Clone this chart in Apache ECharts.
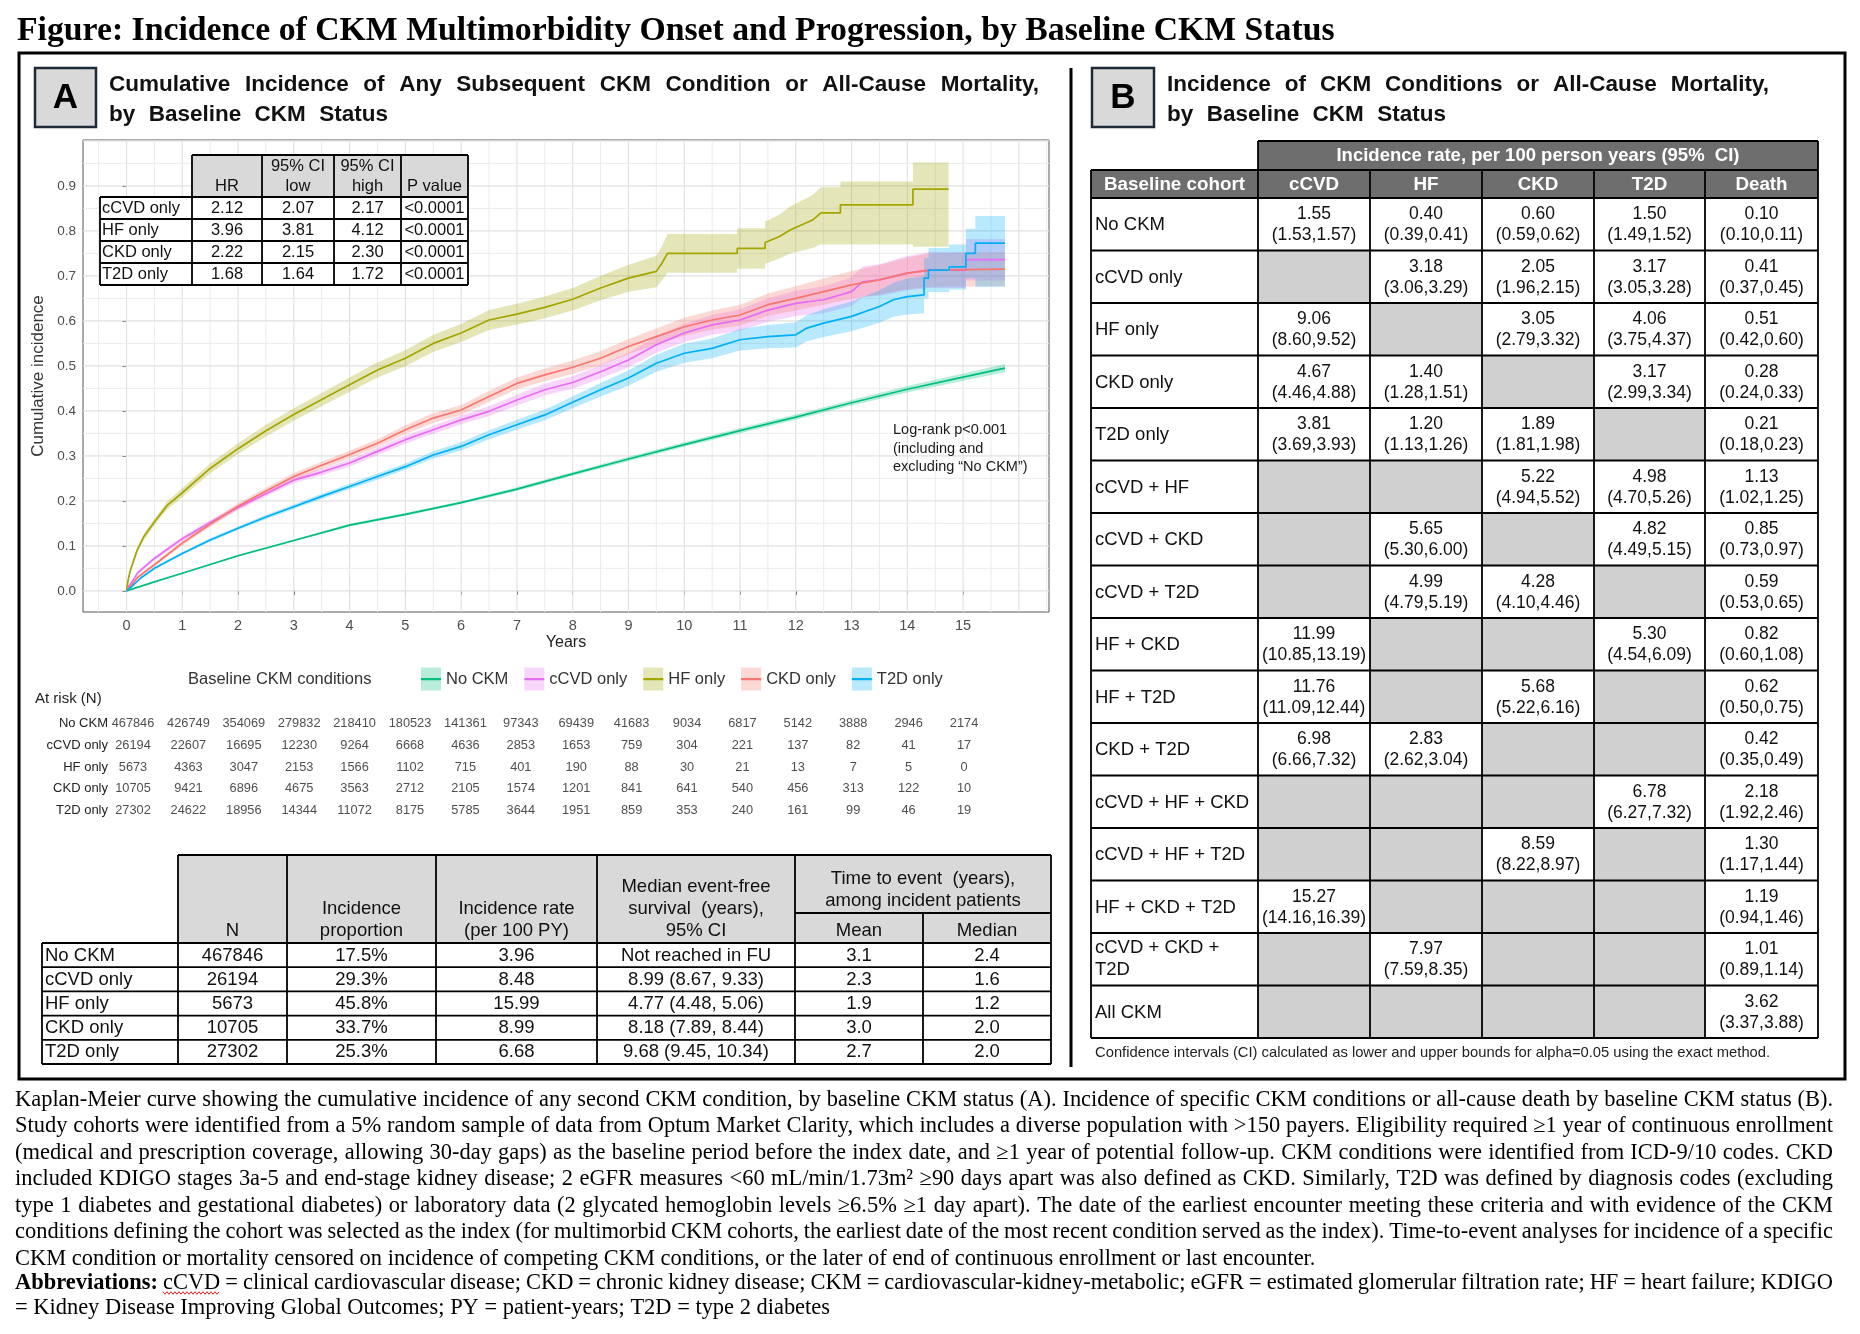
<!DOCTYPE html>
<html><head><meta charset="utf-8">
<script src="https://cdn.jsdelivr.net/npm/echarts@6/dist/echarts.min.js"></script>
<style>html,body{margin:0;padding:0;background:#fff}#c{width:1860px;height:1334px}</style>
</head><body><div id="c"></div>
<script>
// ---------------- DATA ----------------
const groups = ['No CKM','cCVD only','HF only','CKD only','T2D only'];
const colors = ['#00BF7D','#E76BF3','#A3A500','#F8766D','#00B0F6'];
const ribbonColors = ['rgba(0,191,125,0.28)','rgba(231,107,243,0.28)','rgba(163,165,0,0.28)','rgba(248,118,109,0.28)','rgba(0,176,246,0.28)'];
const xTicks = [0,1,2,3,4,5,6,7,8,9,10,11,12,13,14,15];
const yTicks = [0,0.1,0.2,0.3,0.4,0.5,0.6,0.7,0.8,0.9];

// [years, estimate, lower CI, upper CI]
const curveNoCkm = [[0,0,0,0],[0.5,0.02,0.019,0.021],[1,0.039,0.038,0.04],[2,0.078,0.076,0.08],[3,0.112,0.11,0.114],[4,0.146,0.143,0.149],[5,0.17,0.167,0.173],[6,0.196,0.193,0.199],[7,0.226,0.222,0.23],[8,0.26,0.256,0.264],[9,0.293,0.288,0.298],[10,0.325,0.32,0.33],[11,0.356,0.35,0.362],[12,0.386,0.38,0.392],[13,0.418,0.412,0.424],[14,0.448,0.441,0.455],[15,0.475,0.467,0.483],[15.75,0.495,0.486,0.504]];
const curveCcvd = [[0,0,0,0],[0.05,0.012,0.01,0.014],[0.1,0.02,0.018,0.022],[0.2,0.04,0.037,0.043],[0.5,0.072,0.068,0.076],[1,0.116,0.111,0.121],[1.5,0.152,0.147,0.157],[2,0.185,0.179,0.191],[2.5,0.216,0.21,0.222],[3,0.246,0.239,0.253],[3.5,0.264,0.257,0.271],[4,0.284,0.276,0.292],[4.5,0.31,0.302,0.318],[5,0.336,0.327,0.345],[5.5,0.358,0.349,0.367],[6,0.38,0.37,0.39],[6.5,0.399,0.388,0.41],[7,0.424,0.412,0.436],[7.5,0.447,0.434,0.46],[8,0.463,0.449,0.477],[8.5,0.487,0.472,0.502],[9,0.513,0.497,0.529],[9.5,0.547,0.529,0.565],[10,0.573,0.553,0.593],[10.5,0.591,0.569,0.613],[11,0.602,0.578,0.626],[11.5,0.624,0.598,0.65],[12,0.639,0.611,0.667],[12.5,0.647,0.617,0.677],[13,0.665,0.633,0.697],[13.2,0.687,0.653,0.721],[13.5,0.691,0.656,0.726],[14,0.706,0.668,0.744],[14.4,0.713,0.673,0.753],[15.05,0.713,0.673,0.753],[15.05,0.736,0.69,0.782],[15.75,0.736,0.69,0.782]];
const curveHf = [[0,0,0,0],[0.03,0.025,0.021,0.029],[0.07,0.046,0.041,0.051],[0.19,0.09,0.084,0.096],[0.31,0.12,0.113,0.127],[0.5,0.153,0.145,0.161],[0.73,0.19,0.181,0.199],[1,0.218,0.208,0.228],[1.5,0.272,0.261,0.283],[2,0.316,0.304,0.328],[2.5,0.356,0.343,0.369],[3,0.392,0.378,0.406],[3.66,0.436,0.421,0.451],[4,0.458,0.442,0.474],[4.5,0.491,0.474,0.508],[5,0.517,0.499,0.535],[5.5,0.55,0.531,0.569],[6,0.573,0.553,0.593],[6.5,0.602,0.58,0.624],[7,0.615,0.592,0.638],[7.5,0.63,0.606,0.654],[8,0.648,0.623,0.673],[8.5,0.673,0.646,0.7],[9,0.695,0.665,0.725],[9.5,0.71,0.675,0.745],[9.6,0.728,0.69,0.766],[9.7,0.75,0.707,0.793],[10.95,0.75,0.707,0.793],[10.95,0.761,0.716,0.806],[11.45,0.761,0.716,0.806],[11.45,0.774,0.727,0.821],[11.7,0.787,0.738,0.836],[11.9,0.802,0.75,0.854],[12.3,0.824,0.762,0.88],[12.45,0.84,0.77,0.897],[12.8,0.84,0.77,0.897],[12.8,0.858,0.77,0.91],[14.1,0.858,0.77,0.91],[14.1,0.893,0.765,0.952],[14.74,0.893,0.765,0.952]];
const curveCkd = [[0,0,0,0],[0.05,0.008,0.006,0.01],[0.1,0.014,0.012,0.016],[0.2,0.03,0.027,0.033],[0.5,0.058,0.054,0.062],[1,0.106,0.101,0.111],[1.5,0.148,0.142,0.154],[2,0.188,0.181,0.195],[2.5,0.222,0.215,0.229],[3,0.254,0.246,0.262],[3.5,0.279,0.271,0.287],[4,0.303,0.294,0.312],[4.5,0.328,0.319,0.337],[5,0.358,0.348,0.368],[5.5,0.384,0.373,0.395],[6,0.402,0.391,0.413],[6.5,0.432,0.42,0.444],[7,0.461,0.448,0.474],[7.5,0.48,0.466,0.494],[8,0.497,0.482,0.512],[8.5,0.517,0.501,0.533],[9,0.543,0.526,0.56],[9.5,0.565,0.547,0.583],[10,0.587,0.567,0.607],[10.5,0.602,0.581,0.623],[11,0.613,0.59,0.636],[11.5,0.636,0.611,0.661],[12,0.65,0.623,0.677],[12.5,0.665,0.636,0.694],[13,0.68,0.649,0.711],[13.5,0.691,0.658,0.724],[14,0.706,0.671,0.741],[14.4,0.713,0.676,0.75],[15.75,0.715,0.677,0.753]];
const curveT2d = [[0,0,0,0],[0.1,0.01,0.009,0.011],[0.25,0.028,0.026,0.03],[0.5,0.05,0.047,0.053],[1,0.083,0.08,0.086],[1.5,0.113,0.109,0.117],[2,0.139,0.135,0.143],[2.5,0.164,0.159,0.169],[3,0.187,0.182,0.192],[3.5,0.21,0.204,0.216],[4,0.232,0.226,0.238],[4.5,0.254,0.247,0.261],[5,0.276,0.269,0.283],[5.5,0.302,0.294,0.31],[6,0.321,0.312,0.33],[6.5,0.347,0.337,0.357],[7,0.369,0.358,0.38],[7.5,0.391,0.379,0.403],[8,0.419,0.406,0.432],[8.5,0.447,0.432,0.462],[9,0.473,0.456,0.49],[9.5,0.506,0.487,0.525],[10,0.528,0.507,0.549],[10.5,0.539,0.517,0.561],[11,0.558,0.534,0.582],[11.5,0.565,0.539,0.591],[12,0.569,0.541,0.597],[12.2,0.584,0.555,0.613],[12.5,0.595,0.564,0.626],[13,0.61,0.577,0.643],[13.5,0.632,0.596,0.668],[13.75,0.647,0.609,0.685],[14,0.654,0.614,0.694],[14.3,0.658,0.617,0.699],[14.3,0.695,0.65,0.74],[14.38,0.695,0.65,0.74],[14.38,0.713,0.664,0.762],[14.75,0.713,0.664,0.762],[14.75,0.72,0.67,0.77],[15.05,0.72,0.67,0.77],[15.05,0.75,0.695,0.805],[15.22,0.75,0.695,0.805],[15.22,0.773,0.676,0.833],[15.75,0.773,0.676,0.833]];

// Numbers at risk at years 0..15
const riskNoCkm = [467846,426749,354069,279832,218410,180523,141361,97343,69439,41683,9034,6817,5142,3888,2946,2174];
const riskCcvd  = [26194,22607,16695,12230,9264,6668,4636,2853,1653,759,304,221,137,82,41,17];
const riskHf    = [5673,4363,3047,2153,1566,1102,715,401,190,88,30,21,13,7,5,0];
const riskCkd   = [10705,9421,6896,4675,3563,2712,2105,1574,1201,841,641,540,456,313,122,10];
const riskT2d   = [27302,24622,18956,14344,11072,8175,5785,3644,1951,859,353,240,161,99,46,19];

// Hazard ratio inset
const hrGroups = ['cCVD only','HF only','CKD only','T2D only'];
const hrValue = ['2.12','3.96','2.22','1.68'];
const hrLow = ['2.07','3.81','2.15','1.64'];
const hrHigh = ['2.17','4.12','2.30','1.72'];
const hrP = ['<0.0001','<0.0001','<0.0001','<0.0001'];

// Panel A summary table
const sumN = ['467846','26194','5673','10705','27302'];
const sumProp = ['17.5%','29.3%','45.8%','33.7%','25.3%'];
const sumRate = ['3.96','8.48','15.99','8.99','6.68'];
const sumMedianSurv = ['Not reached in FU','8.99 (8.67, 9.33)','4.77 (4.48, 5.06)','8.18 (7.89, 8.44)','9.68 (9.45, 10.34)'];
const sumMeanTime = ['3.1','2.3','1.9','3.0','2.7'];
const sumMedianTime = ['2.4','1.6','1.2','2.0','2.0'];

// Panel B incidence table
const bCohorts = ['No CKM','cCVD only','HF only','CKD only','T2D only','cCVD + HF','cCVD + CKD','cCVD + T2D','HF + CKD','HF + T2D','CKD + T2D','cCVD + HF + CKD','cCVD + HF + T2D','HF + CKD + T2D','cCVD + CKD +|T2D','All CKM'];
const bOutcomes = ['cCVD','HF','CKD','T2D','Death'];
const rateCcvd = ['1.55|(1.53,1.57)',null,'9.06|(8.60,9.52)','4.67|(4.46,4.88)','3.81|(3.69,3.93)',null,null,null,'11.99|(10.85,13.19)','11.76|(11.09,12.44)','6.98|(6.66,7.32)',null,null,'15.27|(14.16,16.39)',null,null];
const rateHf = ['0.40|(0.39,0.41)','3.18|(3.06,3.29)',null,'1.40|(1.28,1.51)','1.20|(1.13,1.26)',null,'5.65|(5.30,6.00)','4.99|(4.79,5.19)',null,null,'2.83|(2.62,3.04)',null,null,null,'7.97|(7.59,8.35)',null];
const rateCkd = ['0.60|(0.59,0.62)','2.05|(1.96,2.15)','3.05|(2.79,3.32)',null,'1.89|(1.81,1.98)','5.22|(4.94,5.52)',null,'4.28|(4.10,4.46)',null,'5.68|(5.22,6.16)',null,null,'8.59|(8.22,8.97)',null,null,null];
const rateT2d = ['1.50|(1.49,1.52)','3.17|(3.05,3.28)','4.06|(3.75,4.37)','3.17|(2.99,3.34)',null,'4.98|(4.70,5.26)','4.82|(4.49,5.15)',null,'5.30|(4.54,6.09)',null,null,'6.78|(6.27,7.32)',null,null,null,null];
const rateDeath = ['0.10|(0.10,0.11)','0.41|(0.37,0.45)','0.51|(0.42,0.60)','0.28|(0.24,0.33)','0.21|(0.18,0.23)','1.13|(1.02,1.25)','0.85|(0.73,0.97)','0.59|(0.53,0.65)','0.82|(0.60,1.08)','0.62|(0.50,0.75)','0.42|(0.35,0.49)','2.18|(1.92,2.46)','1.30|(1.17,1.44)','1.19|(0.94,1.46)','1.01|(0.89,1.14)','3.62|(3.37,3.88)'];

// ---------------- HELPERS ----------------
const SANS = 'Liberation Sans', SERIF = 'Liberation Serif';
const mctx = document.createElement('canvas').getContext('2d');
function tw(s, size, fam, wt) { mctx.font = (wt || 'normal') + ' ' + size + 'px ' + fam; return mctx.measureText(s).width; }
const G = [];
function txt(s, x, y, size, o) {
  o = o || {};
  G.push({ type: 'text', silent: true, z: o.z || 120, style: { text: s, x: x, y: y, fill: o.color || '#111', fontSize: size, fontFamily: o.fam || SANS, fontWeight: o.wt || 'normal', align: o.align || 'left', textAlign: o.align || 'left', verticalAlign: 'middle', textVerticalAlign: 'middle' } });
}
function rect(x, y, w, h, fill, stroke, lw, z) {
  G.push({ type: 'rect', silent: true, z: z || 100, shape: { x: x, y: y, width: w, height: h }, style: { fill: fill || 'rgba(0,0,0,0)', stroke: stroke || null, lineWidth: lw || 0 } });
}
function line(x1, y1, x2, y2, lw, color, z) {
  G.push({ type: 'line', silent: true, z: z || 110, shape: { x1: x1, y1: y1, x2: x2, y2: y2 }, style: { stroke: color || '#000', lineWidth: lw || 1.6 } });
}
// place words of a line, optionally justified to width; returns positions
function words(s, x0, width, y, size, fam, opt) {
  opt = opt || {};
  const ws = s.split(' ');
  const wts = ws.map((w, i) => (i < (opt.bold || 0) ? 'bold' : 'normal'));
  const wid = ws.map((w, i) => tw(w, size, fam, wts[i]));
  const total = wid.reduce((a, b) => a + b, 0);
  const gap = (opt.justify && ws.length > 1) ? (width - total) / (ws.length - 1) : tw(' ', size, fam);
  let x = x0; const pos = [];
  ws.forEach((w, i) => {
    txt(w, x, y, size, { fam: fam, wt: wts[i], color: opt.color || '#111' });
    pos.push([x, wid[i]]); x += wid[i] + gap;
  });
  return pos;
}

// ---------------- FIGURE TITLE + FRAME ----------------
const TITLE = 'Figure: Incidence of CKM Multimorbidity Onset and Progression, by Baseline CKM Status';
let ts = 30 * 1318 / tw(TITLE, 30, SERIF, 'bold'); ts = Math.max(26, Math.min(36, ts));
txt(TITLE, 17, 31, ts, { fam: SERIF, wt: 'bold', color: '#000' });
rect(19, 53, 1826, 1026, null, '#000', 3, 90);
line(1071, 68, 1071, 1067, 3, '#000');

// Panel labels
rect(35, 68, 61, 59, '#d9d9d9', '#1f2a38', 2.5);
txt('A', 65.5, 98, 35, { wt: 'bold', align: 'center', color: '#000' });
rect(1092, 68, 62, 59, '#d9d9d9', '#1f2a38', 2.5);
txt('B', 1123, 98, 35, { wt: 'bold', align: 'center', color: '#000' });

function fitSize(s, size, width, wt) { const w = tw(s, size, SANS, wt); return w > width * 0.97 ? size * width * 0.97 / w : size; }
const tA1 = 'Cumulative Incidence of Any Subsequent CKM Condition or All-Cause Mortality,';
const tA2 = 'by Baseline CKM Status';
const tB1 = 'Incidence of CKM Conditions or All-Cause Mortality,';
const tsA = fitSize(tA1, 22.5, 930, 'bold');
words(tA1, 109, 930, 85, tsA, SANS, { justify: true, bold: 99 });
words(tA2, 109, 279, 115, tsA, SANS, { justify: true, bold: 99 });
words(tB1, 1167, 602, 85, tsA, SANS, { justify: true, bold: 99 });
words(tA2, 1167, 279, 115, tsA, SANS, { justify: true, bold: 99 });

// ---------------- HR INSET TABLE ----------------
const hx = [100, 192, 262, 334, 401, 468];
const hyH = 155, hy0 = 197, hrH = 22;
rect(hx[1], hyH, hx[5] - hx[1], hy0 - hyH, '#d9d9d9');
rect(hx[0], hy0, hx[5] - hx[0], hrH * 4, '#ffffff');
line(hx[1], hyH, hx[5], hyH, 1.8);
for (let i = 0; i <= 4; i++) line(hx[0], hy0 + i * hrH, hx[5], hy0 + i * hrH, 1.8);
line(hx[0], hy0, hx[0], hy0 + 4 * hrH, 1.8);
for (let j = 1; j <= 5; j++) line(hx[j], hyH, hx[j], hy0 + 4 * hrH, 1.8);
const hrFs = 16.5;
txt('HR', (hx[1] + hx[2]) / 2, 186, hrFs, { align: 'center' });
txt('95% CI', (hx[2] + hx[3]) / 2, 166, hrFs, { align: 'center' });
txt('low', (hx[2] + hx[3]) / 2, 186, hrFs, { align: 'center' });
txt('95% CI', (hx[3] + hx[4]) / 2, 166, hrFs, { align: 'center' });
txt('high', (hx[3] + hx[4]) / 2, 186, hrFs, { align: 'center' });
txt('P value', (hx[4] + hx[5]) / 2, 186, hrFs, { align: 'center' });
hrGroups.forEach((g, i) => {
  const y = hy0 + i * hrH + hrH / 2 + 0.5;
  txt(g, hx[0] + 2, y, hrFs);
  txt(hrValue[i], (hx[1] + hx[2]) / 2, y, hrFs, { align: 'center' });
  txt(hrLow[i], (hx[2] + hx[3]) / 2, y, hrFs, { align: 'center' });
  txt(hrHigh[i], (hx[3] + hx[4]) / 2, y, hrFs, { align: 'center' });
  txt(hrP[i], (hx[4] + hx[5]) / 2, y, hrFs, { align: 'center' });
});

// Log-rank annotation
txt('Log-rank p<0.001', 893, 430, 14.5, { color: '#1a1a1a' });
txt('(including and', 893, 448.5, 14.5, { color: '#1a1a1a' });
txt('excluding \u201cNo CKM\u201d)', 893, 467, 14.5, { color: '#1a1a1a' });

// Legend title & at-risk title
txt('Baseline CKM conditions', 188, 679, 16.5, { color: '#333' });
txt('At risk (N)', 35, 699, 15, { color: '#222' });

// ---------------- SUMMARY TABLE (A) ----------------
const ax = [42, 178, 287, 436, 597, 795, 923, 1051];
const aTop = 855, aHb = 943, aSplit = 913, aRow = 24.2;
rect(ax[1], aTop, ax[7] - ax[1], aHb - aTop, '#d9d9d9');
line(ax[1], aTop, ax[7], aTop, 1.8);
line(ax[5], aSplit, ax[7], aSplit, 1.8);
for (let i = 0; i <= 5; i++) line(ax[0], aHb + i * aRow, ax[7], aHb + i * aRow, 1.8);
line(ax[0], aHb, ax[0], aHb + 5 * aRow, 1.8);
for (let j = 1; j <= 7; j++) line(ax[j], j === 6 ? aSplit : aTop, ax[j], aHb + 5 * aRow, 1.8);
const aFs = 18.5;
const cA = j => (ax[j] + ax[j + 1]) / 2;
txt('N', cA(1), 931, aFs, { align: 'center' });
txt('Incidence', cA(2), 909, aFs, { align: 'center' });
txt('proportion', cA(2), 931, aFs, { align: 'center' });
txt('Incidence rate', cA(3), 909, aFs, { align: 'center' });
txt('(per 100 PY)', cA(3), 931, aFs, { align: 'center' });
txt('Median event-free', cA(4), 887, aFs, { align: 'center' });
txt('survival  (years),', cA(4), 909, aFs, { align: 'center' });
txt('95% CI', cA(4), 931, aFs, { align: 'center' });
txt('Time to event  (years),', (ax[5] + ax[7]) / 2, 879, aFs, { align: 'center' });
txt('among incident patients', (ax[5] + ax[7]) / 2, 901, aFs, { align: 'center' });
txt('Mean', cA(5), 931, aFs, { align: 'center' });
txt('Median', cA(6), 931, aFs, { align: 'center' });
const aCols = [sumN, sumProp, sumRate, sumMedianSurv, sumMeanTime, sumMedianTime];
groups.forEach((g, i) => {
  const y = aHb + i * aRow + aRow / 2 + 0.5;
  txt(g, ax[0] + 3, y, aFs);
  aCols.forEach((col, j) => txt(col[i], cA(j + 1), y, aFs, { align: 'center' }));
});

// ---------------- INCIDENCE TABLE (B) ----------------
const bx = [1091, 1258, 1370, 1482, 1594, 1705, 1818];
const bBand = 141, bHdr = 170, bTop = 198, bRow = 52.5;
const hdrFill = '#6e6e6e';
rect(bx[1], bBand, bx[6] - bx[1], bHdr - bBand, hdrFill);
rect(bx[0], bHdr, bx[6] - bx[0], bTop - bHdr, hdrFill);
const bCols = [rateCcvd, rateHf, rateCkd, rateT2d, rateDeath];
bCohorts.forEach((c, i) => {
  bCols.forEach((col, j) => { if (col[i] === null) rect(bx[j + 1], bTop + i * bRow, bx[j + 2] - bx[j + 1], bRow, '#d0d0d0'); });
});
line(bx[1], bBand, bx[6], bBand, 1.8);
line(bx[0], bHdr, bx[6], bHdr, 1.8);
for (let i = 0; i <= bCohorts.length; i++) line(bx[0], bTop + i * bRow, bx[6], bTop + i * bRow, 1.8);
line(bx[0], bHdr, bx[0], bTop + bCohorts.length * bRow, 1.8);
for (let j = 1; j <= 6; j++) line(bx[j], (j === 1 || j === 6) ? bBand : bHdr, bx[j], bTop + bCohorts.length * bRow, 1.8);
txt('Incidence rate, per 100 person years (95%  CI)', (bx[1] + bx[6]) / 2, 156, 18.5, { align: 'center', color: '#fff', wt: 'bold' });
txt('Baseline cohort', (bx[0] + bx[1]) / 2, 184.5, 18.8, { align: 'center', color: '#fff', wt: 'bold' });
bOutcomes.forEach((o, j) => txt(o, (bx[j + 1] + bx[j + 2]) / 2, 184.5, 18.8, { align: 'center', color: '#fff', wt: 'bold' }));
bCohorts.forEach((c, i) => {
  const yc = bTop + i * bRow + bRow / 2;
  const parts = c.split('|');
  if (parts.length === 1) txt(c, bx[0] + 4, yc + 1, 18.5);
  else { txt(parts[0], bx[0] + 4, yc - 11, 18.5); txt(parts[1], bx[0] + 4, yc + 11, 18.5); }
  bCols.forEach((col, j) => {
    if (col[i] === null) return;
    const p = col[i].split('|'); const cx = (bx[j + 1] + bx[j + 2]) / 2;
    txt(p[0], cx, yc - 10, 17.5, { align: 'center' });
    txt(p[1], cx, yc + 11, 17.5, { align: 'center' });
  });
});
const NOTE_B = 'Confidence intervals (CI) calculated as lower and upper bounds for alpha=0.05 using the exact method.';
txt(NOTE_B, 1095, 1053, 14 * 676 / tw(NOTE_B, 14, SANS), { color: '#222' });

// ---------------- FOOTNOTE ----------------
const foot = [
  'Kaplan-Meier curve showing the cumulative incidence of any second CKM condition, by baseline CKM status (A). Incidence of specific CKM conditions or all-cause death by baseline CKM status (B).',
  'Study cohorts were identified from a 5% random sample of data from Optum Market Clarity, which includes a diverse population with >150 payers. Eligibility required \u22651 year of continuous enrollment',
  '(medical and prescription coverage, allowing 30-day gaps) as the baseline period before the index date, and \u22651 year of potential follow-up. CKM conditions were identified from ICD-9/10 codes. CKD',
  'included KDIGO stages 3a-5 and end-stage kidney disease; 2 eGFR measures <60 mL/min/1.73m\u00b2 \u226590 days apart was also defined as CKD. Similarly, T2D was defined by diagnosis codes (excluding',
  'type 1 diabetes and gestational diabetes) or laboratory data (2 glycated hemoglobin levels \u22656.5% \u22651 day apart). The date of the earliest encounter meeting these criteria and with evidence of the CKM',
  'conditions defining the cohort was selected as the index (for multimorbid CKM cohorts, the earliest date of the most recent condition served as the index). Time-to-event analyses for incidence of a specific',
  'CKM condition or mortality censored on incidence of competing CKM conditions, or the later of end of continuous enrollment or last encounter.',
  'Abbreviations: cCVD = clinical cardiovascular disease; CKD = chronic kidney disease; CKM = cardiovascular-kidney-metabolic; eGFR = estimated glomerular filtration rate; HF = heart failure; KDIGO',
  '= Kidney Disease Improving Global Outcomes; PY = patient-years; T2D = type 2 diabetes'
];
const footY = [1100, 1126.5, 1153, 1179.5, 1206, 1232.5, 1259, 1283, 1308];
const footJ = [1, 1, 1, 1, 1, 1, 0, 1, 0];
const fs1 = 20 * 1302 / tw(foot[6], 20, SERIF), fs2 = 20 * 815 / tw(foot[8], 20, SERIF);
const fs = Math.max(17, Math.min(23, (fs1 + fs2) / 2));
foot.forEach((l, i) => {
  const pos = words(l, 15, 1818, footY[i], fs, SERIF, { justify: !!footJ[i], bold: i === 7 ? 1 : 0, color: '#000' });
  if (i === 7) { // spell-check squiggle under "cCVD"
    const p = pos[1]; const pts = []; let k = 0;
    for (let x = p[0]; x <= p[0] + p[1]; x += 2) { pts.push([x, footY[i] + 10 + (k % 2 ? 1.3 : -1.3)]); k++; }
    G.push({ type: 'polyline', silent: true, z: 120, shape: { points: pts }, style: { stroke: '#e02020', lineWidth: 1, fill: null } });
  }
});

// ---------------- CHART SERIES ----------------
const X_MIN = -0.78, X_MAX = 16.54, Y_MIN = -0.047, Y_MAX = 1.002;
const gridLines = [];
for (let k = -1; k <= 33; k++) { const t = k * 0.5; if (t > X_MIN && t < X_MAX) gridLines.push([k % 2 === 0 ? 0 : 1, t]); }
for (let k = 0; k <= 20; k++) { const v = k * 0.05; if (v > Y_MIN && v < Y_MAX) gridLines.push([k % 2 === 0 ? 2 : 3, v]); }

const curves = [curveNoCkm, curveCcvd, curveHf, curveCkd, curveT2d];
const risks = [riskNoCkm, riskCcvd, riskHf, riskCkd, riskT2d];
const series = [];
series.push({
  type: 'custom', xAxisIndex: 0, yAxisIndex: 0, z: 1, silent: true, data: gridLines, clip: true,
  renderItem: (params, api) => {
    const kind = api.value(0), v = api.value(1);
    let a, b;
    if (kind < 2) { a = api.coord([v, Y_MIN]); b = api.coord([v, Y_MAX]); }
    else { a = api.coord([X_MIN, v]); b = api.coord([X_MAX, v]); }
    const major = kind === 0 || kind === 2;
    return { type: 'line', shape: { x1: a[0], y1: a[1], x2: b[0], y2: b[1] }, style: { stroke: major ? '#e0e0e0' : '#ebebeb', lineWidth: major ? 1.1 : 1 } };
  }
});
curves.forEach((c, i) => {
  series.push({
    type: 'custom', xAxisIndex: 0, yAxisIndex: 0, z: 2, silent: true, data: [0],
    renderItem: (params, api) => {
      const up = c.map(p => api.coord([p[0], p[3]]));
      const lo = c.map(p => api.coord([p[0], p[2]])).reverse();
      return { type: 'polygon', shape: { points: up.concat(lo) }, style: { fill: ribbonColors[i], stroke: null } };
    }
  });
});
curves.forEach((c, i) => {
  series.push({
    type: 'line', name: groups[i], xAxisIndex: 0, yAxisIndex: 0, z: 3, data: c.map(p => [p[0], p[1]]),
    showSymbol: false, symbol: 'none', lineStyle: { color: colors[i], width: 1.7 }, itemStyle: { color: colors[i], borderWidth: 0 }
  });
});
const riskData = [];
risks.forEach((r, i) => r.forEach((n, j) => riskData.push([xTicks[j], i, n])));
series.push({
  type: 'scatter', xAxisIndex: 1, yAxisIndex: 1, symbolSize: 1, itemStyle: { color: 'rgba(0,0,0,0)' }, silent: true,
  data: riskData,
  label: { show: true, position: 'inside', formatter: p => String(p.value[2]), fontSize: 12.8, color: '#222', fontFamily: SANS }
});

const legendBase = { orient: 'horizontal', left: 421, top: 667.5, itemWidth: 20, itemHeight: 23, itemGap: 16, selectedMode: false, padding: 0, itemStyle: { borderWidth: 0 }, lineStyle: { width: 0 } };
const option = {
  animation: false,
  backgroundColor: '#ffffff',
  grid: [
    { left: 83, top: 140, width: 966, height: 472, show: true, borderColor: '#555555', borderWidth: 1, backgroundColor: '#ffffff', containLabel: false, outerBoundsMode: 'none' },
    { left: 83, top: 713, width: 966, height: 108, show: false, containLabel: false, outerBoundsMode: 'none' }
  ],
  xAxis: [
    { type: 'value', gridIndex: 0, min: X_MIN, max: X_MAX, axisLine: { show: false }, splitLine: { show: false },
      axisTick: { show: true, customValues: xTicks, length: 4, lineStyle: { color: '#333', width: 1 } },
      axisLabel: { customValues: xTicks, margin: 6, fontSize: 14.5, color: '#4d4d4d', fontFamily: SANS },
      name: 'Years', nameLocation: 'middle', nameGap: 23, nameTextStyle: { fontSize: 16, color: '#222', fontFamily: SANS } },
    { type: 'value', gridIndex: 1, min: -0.9025, max: 16.534, show: false }
  ],
  yAxis: [
    { type: 'value', gridIndex: 0, min: Y_MIN, max: Y_MAX, axisLine: { show: false }, splitLine: { show: false },
      axisTick: { show: true, customValues: yTicks, length: 4, lineStyle: { color: '#333', width: 1 } },
      axisLabel: { customValues: yTicks, formatter: v => Number(v).toFixed(1), margin: 7, fontSize: 13.5, color: '#4d4d4d', fontFamily: SANS },
      name: 'Cumulative incidence', nameLocation: 'middle', nameRotate: 90, nameGap: 24, nameTextStyle: { fontSize: 17, color: '#333', fontFamily: SANS } },
    { type: 'category', gridIndex: 1, data: groups, inverse: true, offset: -27, axisLine: { show: false }, axisTick: { show: false }, splitLine: { show: false },
      axisLabel: { fontSize: 13, color: '#222', margin: 2, fontFamily: SANS } }
  ],
  legend: [
    Object.assign({}, legendBase, { z: 3, icon: 'rect',
      data: groups.map((g, i) => ({ name: g, itemStyle: { color: ribbonColors[i], borderWidth: 0 } })),
      textStyle: { fontSize: 16.5, color: 'rgba(0,0,0,0)', fontFamily: SANS } }),
    Object.assign({}, legendBase, { z: 4, icon: 'path://M0,0L0,0ZM0,10.5H20V12.8H0ZM20,23L20,23Z',
      data: groups.map((g, i) => ({ name: g, itemStyle: { color: colors[i], borderWidth: 0 } })),
      textStyle: { fontSize: 16.5, color: '#333', fontFamily: SANS } })
  ],
  graphic: G,
  series: series
};
const chart = echarts.init(document.getElementById('c'), null, { renderer: 'canvas', width: 1860, height: 1334 });
chart.setOption(option);
</script></body></html>
